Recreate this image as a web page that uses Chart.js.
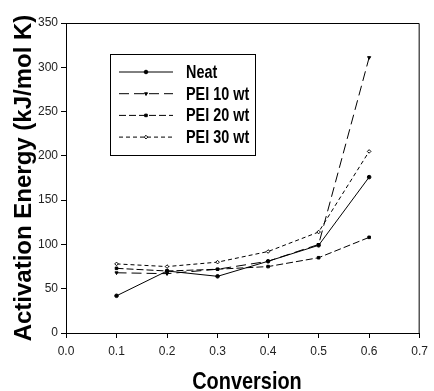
<!DOCTYPE html>
<html>
<head>
<meta charset="utf-8">
<script src="https://cdn.jsdelivr.net/npm/chart.js@4/dist/chart.umd.min.js"></script>
<style>
  html, body { margin: 0; padding: 0; background: #fff; }
  #wrap { width: 434px; height: 391px; }
</style>
</head>
<body>
<div id="wrap"><canvas id="c" width="434" height="391"></canvas></div>
<script>
// values
const conversion = [0.1, 0.2, 0.3, 0.4, 0.5, 0.6];
const neat  = [42, 70, 64, 81, 99, 176];
const pei10 = [68, 67, 72, 81, 100, 311];
const pei20 = [73, 70, 72, 75, 85, 108];
const pei30 = [78, 75, 80, 92, 114, 205];
const seriesLabels = ['Neat', 'PEI 10 wt', 'PEI 20 wt', 'PEI 30 wt'];
const xTitle = 'Conversion';
const yTitle = 'Activation Energy (kJ/mol K)';

const pts = ys => conversion.map((x, i) => ({ x: x, y: ys[i] }));

function ds(label, ys, dash, style, rot, fill) {
    return {
        label: label,
        data: pts(ys),
        borderColor: '#000',
        borderWidth: 1,
        borderDash: dash,
        pointStyle: style,
        pointRotation: rot,
        pointRadius: 1.8,
        pointBackgroundColor: fill,
        pointBorderColor: '#000',
        pointBorderWidth: 1,
        tension: 0
    };
}

// the original text is horizontally squeezed, so draw it scaled
function squeezedText(ctx, text, x, y, sx) {
    ctx.save();
    ctx.translate(x, y);
    ctx.scale(sx, 1);
    ctx.fillText(text, 0, 0);
    ctx.restore();
}

// box round the plot, x title and legend inside the plot
const framePlugin = {
    id: 'frame',
    afterDraw(chart) {
        const ctx = chart.ctx, a = chart.chartArea;
        ctx.save();
        ctx.strokeStyle = '#000';
        ctx.lineWidth = 1;
        ctx.beginPath();
        ctx.moveTo(a.left, a.top + 0.5);
        ctx.lineTo(a.right - 0.5, a.top + 0.5);
        ctx.lineTo(a.right - 0.5, a.bottom);
        ctx.stroke();

        // x axis title
        ctx.fillStyle = '#000';
        ctx.font = 'bold 24px "Liberation Sans", Arial';
        ctx.textAlign = 'center';
        ctx.textBaseline = 'middle';
        squeezedText(ctx, xTitle, 247, 382, 0.83);

        // legend
        ctx.textAlign = 'left';
        ctx.fillStyle = '#fff';
        ctx.fillRect(110, 54, 145, 101);
        ctx.strokeRect(110.5, 54.5, 145, 101);
        ctx.font = 'bold 18px "Liberation Sans", Arial';
        chart.data.datasets.forEach((d, i) => {
            const y = 72 + i * 21.7;
            ctx.strokeStyle = '#000';
            ctx.setLineDash(d.borderDash);
            ctx.beginPath();
            ctx.moveTo(119, y);
            ctx.lineTo(173, y);
            ctx.stroke();
            ctx.setLineDash([]);
            ctx.fillStyle = d.pointBackgroundColor;
            Chart.helpers.drawPoint(ctx, {
                pointStyle: d.pointStyle, rotation: d.pointRotation,
                radius: d.pointRadius, borderWidth: 1
            }, 146, y);
            ctx.fillStyle = '#000';
            squeezedText(ctx, d.label, 186, y + 1, 0.8);
        });
        ctx.restore();
    }
};

new Chart(document.getElementById('c'), {
    type: 'line',
    data: {
        datasets: [
            ds(seriesLabels[0], neat, [], 'circle', 0, '#000'),
            ds(seriesLabels[1], pei10, [10, 5], 'triangle', 180, '#000'),
            ds(seriesLabels[2], pei20, [7, 3], 'rect', 0, '#000'),
            ds(seriesLabels[3], pei30, [4, 3], 'rectRot', 0, '#fff')
        ]
    },
    options: {
        responsive: false,
        animation: false,
        layout: { padding: { top: 23, right: 9, left: 0, bottom: 0 } },
        plugins: { legend: { display: false }, tooltip: { enabled: false } },
        scales: {
            x: {
                type: 'linear',
                min: 0, max: 0.7,
                afterFit: s => { s.height = 58; },
                border: { display: true, color: '#000', width: 1 },
                grid: { drawOnChartArea: false, drawTicks: true, tickLength: 5, color: '#000' },
                ticks: {
                    stepSize: 0.1, padding: 6, color: '#222',
                    font: { family: '"Liberation Sans", Arial', size: 12 },
                    callback: v => v.toFixed(1)
                }
            },
            y: {
                min: 0, max: 350,
                afterFit: s => { s.width = 66; },
                border: { display: true, color: '#000', width: 1 },
                grid: { drawOnChartArea: false, drawTicks: true, tickLength: 5, color: '#000' },
                ticks: {
                    stepSize: 50, padding: 3, color: '#222',
                    font: { family: '"Liberation Sans", Arial', size: 12 }
                },
                title: {
                    display: true, text: yTitle, color: '#000',
                    font: { family: '"Liberation Sans", Arial', size: 24, weight: 'bold', lineHeight: 1 },
                    padding: { top: 12, bottom: 0 }
                }
            }
        }
    },
    plugins: [framePlugin]
});
</script>
</body>
</html>
